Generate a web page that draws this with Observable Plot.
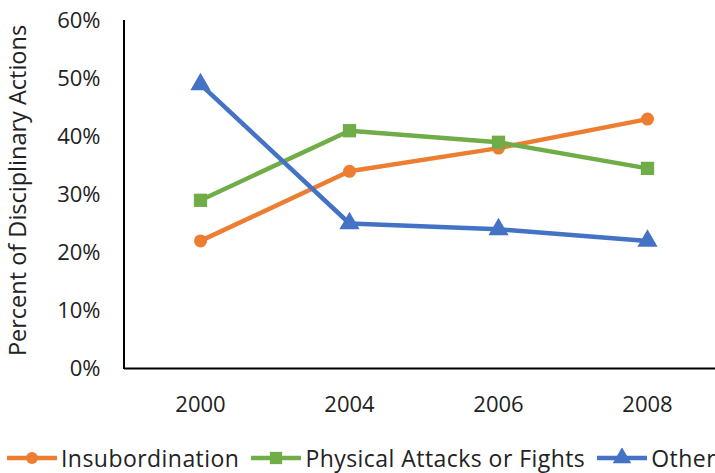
<!DOCTYPE html>
<html>
<head>
<meta charset="utf-8">
<script src="https://cdn.jsdelivr.net/npm/d3@7"></script>
<script src="https://cdn.jsdelivr.net/npm/@observablehq/plot@0.6"></script>
<style>
  html, body { margin: 0; padding: 0; background: #fff; }
  body { width: 715px; height: 473px; overflow: hidden; font-family: "Open Sans", sans-serif; color: #222; }
  #legend { display: flex; align-items: center; white-space: nowrap; font-size: 23px; letter-spacing: 0.45px; margin-left: 7px; margin-top: 17px; height: 32px; }
  #legend .item { display: flex; align-items: center; margin-right: 12px; }
  #legend svg { margin-right: 4px; }
</style>
</head>
<body>
<div id="chart"></div>
<div id="legend"></div>
<script>
const years = ["2000", "2004", "2006", "2008"];
const seriesNames = ["Insubordination", "Physical Attacks or Fights", "Other"];
const insubordination = [22, 34, 38, 43];
const physical = [29, 41, 39, 34.5];
const other = [49, 25, 24, 22];
const yTicks = [0, 10, 20, 30, 40, 50, 60];
const yTitle = "Percent of Disciplinary Actions";
const colors = ["#ED7D31", "#70AD47", "#4472C4"];
const symbols = ["circle", "square", "triangle"];

const valuesBySeries = [insubordination, physical, other];
const rows = [];
seriesNames.forEach((s, i) => years.forEach((y, j) => rows.push({series: s, year: y, value: valuesBySeries[i][j]})));

const leftAxisLine = (index, scales, values, dimensions) => {
  const g = d3.create("svg:line")
    .attr("x1", dimensions.marginLeft).attr("x2", dimensions.marginLeft)
    .attr("y1", dimensions.marginTop).attr("y2", dimensions.height - dimensions.marginBottom + 1)
    .attr("stroke", "#000").attr("stroke-width", 2);
  return g.node();
};

const marks = [
  Plot.axisY({ticks: yTicks, tickSize: 0, tickPadding: 24, tickFormat: d => d + "%", fontSize: 22, label: null}),
  Plot.axisX({tickSize: 0, tickPadding: 28, fontSize: 22, label: null}),
  Plot.text([yTitle], {frameAnchor: "left", textAnchor: "middle", rotate: -90, dx: -106, dy: -4, fontSize: 23.5, fill: "#222"}),
  Plot.ruleY([0], {stroke: "#000", strokeWidth: 2}),
  leftAxisLine
];
seriesNames.forEach((s, i) => {
  const d = rows.filter(r => r.series === s);
  marks.push(Plot.line(d, {x: "year", y: "value", stroke: colors[i], strokeWidth: 4.5}));
  marks.push(Plot.dot(d, {x: "year", y: "value", fill: colors[i], stroke: "none", symbol: symbols[i], r: i === 0 ? 6.5 : 7.5}));
});

const chart = Plot.plot({
  width: 715,
  height: 425,
  marginLeft: 124,
  marginRight: 0,
  marginTop: 20,
  marginBottom: 57,
  style: {fontFamily: "Open Sans, sans-serif", color: "#222", background: "#fff", overflow: "visible"},
  x: {type: "point", domain: years, range: [199, 647], padding: 0},
  y: {domain: [0, 60]},
  marks
});
document.getElementById("chart").appendChild(chart);

const legend = document.getElementById("legend");
seriesNames.forEach((s, i) => {
  const item = document.createElement("div");
  item.className = "item";
  const sw = d3.create("svg").attr("width", 50).attr("height", 20);
  sw.append("line").attr("x1", 0).attr("x2", 50).attr("y1", 10).attr("y2", 10).attr("stroke", colors[i]).attr("stroke-width", 4.5);
  sw.append("path").attr("transform", "translate(25,10)")
    .attr("d", d3.symbol(i === 0 ? d3.symbolCircle : i === 1 ? d3.symbolSquare : d3.symbolTriangle, i === 0 ? 110 : 150)())
    .attr("fill", colors[i]);
  item.appendChild(sw.node());
  const t = document.createElement("span");
  t.textContent = s;
  item.appendChild(t);
  legend.appendChild(item);
});
</script>
</body>
</html>
